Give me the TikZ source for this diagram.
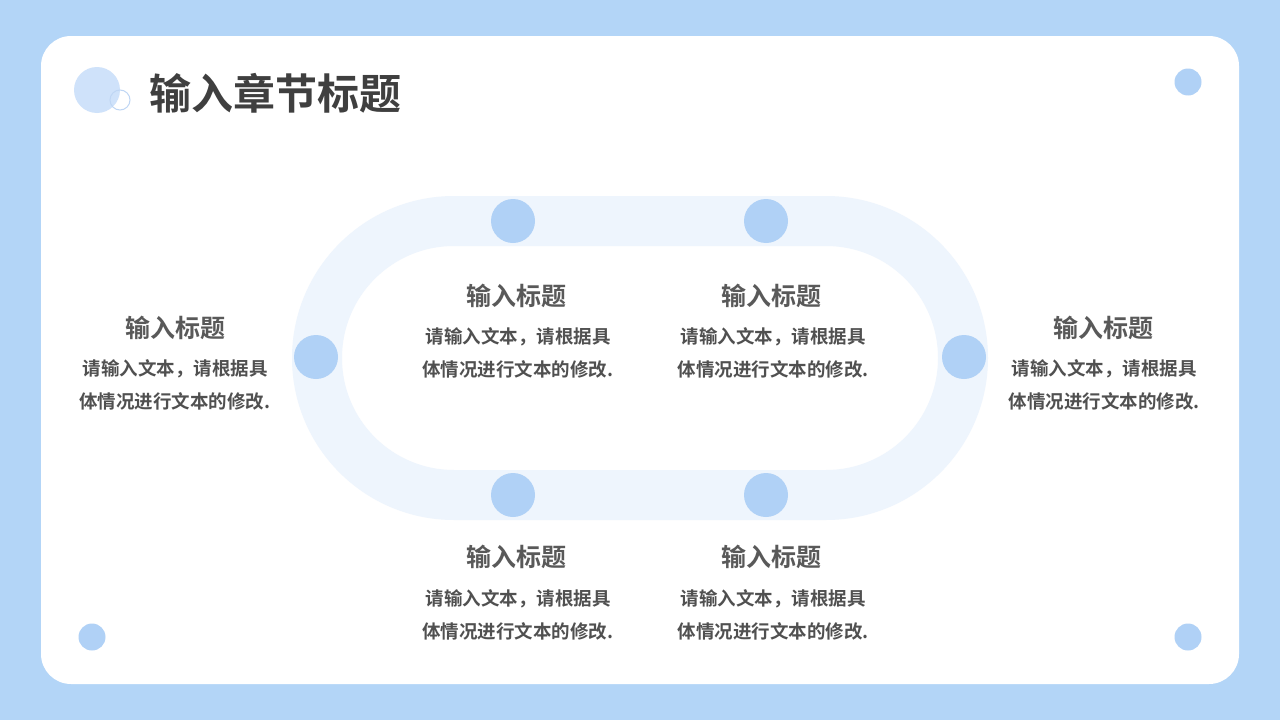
\documentclass[tikz,border=0pt]{standalone}
\usepackage{fontspec}
\newfontfamily\cjkb{Noto Sans CJK SC Bold}
\definecolor{bgblue}{HTML}{B3D5F7}
\definecolor{dotblue}{HTML}{B0D1F6}
\definecolor{bandblue}{HTML}{EEF5FD}
\definecolor{decoblue}{HTML}{CFE2FA}
\definecolor{ringblue}{HTML}{BFD6F4}
\definecolor{titlegray}{HTML}{3F3F3F}
\definecolor{headgray}{HTML}{595959}
\definecolor{bodygray}{HTML}{505050}
\tikzset{
  dot/.style={circle, fill=dotblue, draw=none, minimum size=#1, inner sep=0pt},
  head/.style={font=\cjkb\fontsize{25}{28}\selectfont, text=headgray, inner sep=0pt},
  body/.style={font=\cjkb\fontsize{18.5}{33}\selectfont, text=bodygray, inner sep=0pt, align=center},
}
\begin{document}
\begin{tikzpicture}[x=1pt,y=-1pt]
\useasboundingbox (0,0) rectangle (1280,720);
\fill[bgblue] (0,0) rectangle (1280,720);
\fill[white, rounded corners=30pt] (41,36) rectangle (1239,684);
% stadium band
\fill[bandblue, even odd rule]
  (454,196) -- (826,196) arc[start angle=270, end angle=450, radius=162] -- (454,520) arc[start angle=90, end angle=270, radius=162] -- cycle
  (454,246) -- (826,246) arc[start angle=270, end angle=450, radius=112] -- (454,470) arc[start angle=90, end angle=270, radius=112] -- cycle;
% dots on band
\node[dot=44pt] (t1) at (513,221) {};
\node[dot=44pt] (t2) at (766,221) {};
\node[dot=44pt] (l) at (316,357) {};
\node[dot=44pt] (r) at (964,357) {};
\node[dot=44pt] (b1) at (513,495) {};
\node[dot=44pt] (b2) at (766,495) {};
% corner dots
\node[dot=27pt] (c1) at (1188,82) {};
\node[dot=27pt] (c2) at (92,637) {};
\node[dot=27pt] (c3) at (1188,637) {};
% title deco
\node[circle, fill=decoblue, minimum size=46pt, inner sep=0pt] (d1) at (97,90) {};
\node[circle, draw=ringblue, line width=1pt, minimum size=20pt, inner sep=0pt] (d2) at (120,100) {};
\node[anchor=west, font=\cjkb\fontsize{42}{44}\selectfont, text=titlegray, inner sep=0pt] (title) at (149,93) {输入章节标题};
% text blocks
\node[head] (h1) at (175,328) {输入标题};
\node[body] (p1) at (175,385) {请输入文本，请根据具\\体情况进行文本的修改.};
\node[head] (h2) at (516,296) {输入标题};
\node[body] (p2) at (518,353) {请输入文本，请根据具\\体情况进行文本的修改.};
\node[head] (h3) at (771,296) {输入标题};
\node[body] (p3) at (773,353) {请输入文本，请根据具\\体情况进行文本的修改.};
\node[head] (h4) at (1103,328) {输入标题};
\node[body] (p4) at (1104,385) {请输入文本，请根据具\\体情况进行文本的修改.};
\node[head] (h5) at (516,557) {输入标题};
\node[body] (p5) at (518,615) {请输入文本，请根据具\\体情况进行文本的修改.};
\node[head] (h6) at (771,557) {输入标题};
\node[body] (p6) at (773,615) {请输入文本，请根据具\\体情况进行文本的修改.};
\end{tikzpicture}
\end{document}
